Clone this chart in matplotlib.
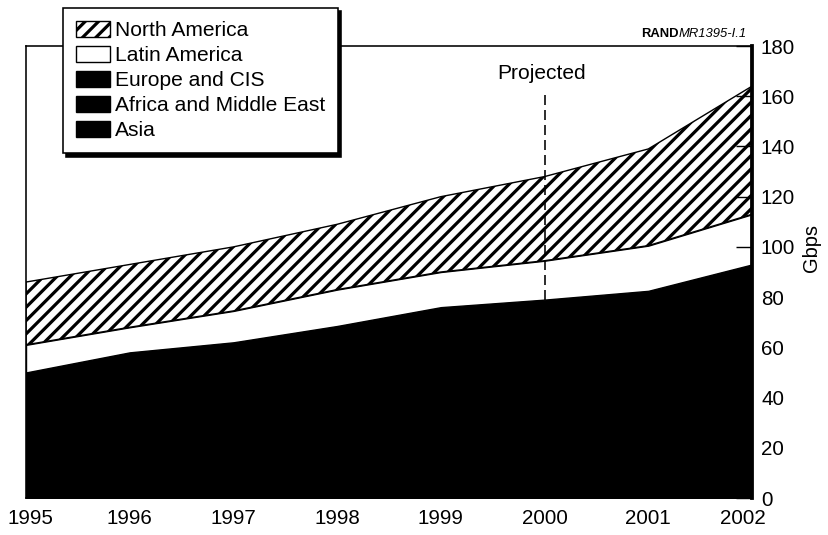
import matplotlib
matplotlib.use("Agg")
import matplotlib.pyplot as plt
import matplotlib.transforms as mtransforms
import numpy as np

W, H, DPI = 828, 535, 120


def pt(px):
    return px * 72.0 / DPI


plt.rcParams['font.family'] = ['Liberation Sans', 'DejaVu Sans']
plt.rcParams['hatch.linewidth'] = pt(3.2)
plt.rcParams['hatch.color'] = 'black'
plt.rcParams['lines.scale_dashes'] = False

years = [1995, 1996, 1997, 1998, 1999, 2000, 2001, 2002]
asia = [12, 14.5, 16, 18, 20, 21.5, 22.5, 26]
africa_me = [2, 2.5, 3, 3.5, 4, 4.5, 5, 6]
europe_cis = [36, 41, 43, 47, 52, 53, 55, 61]
latin_america = [11, 10, 12.5, 14.5, 14, 15.5, 18, 20]
north_america = [25, 25, 25.5, 26, 30, 33.5, 38.5, 51]
labels = ['Asia', 'Africa and Middle East', 'Europe and CIS', 'Latin America', 'North America']
yticks = [0, 20, 40, 60, 80, 100, 120, 140, 160, 180]
projected_year = 2000
projected_top = 162

fig = plt.figure(figsize=(W / DPI, H / DPI), dpi=DPI)
ax = fig.add_axes([26 / W, 1 - 498 / H, 726 / W, (498 - 46) / H])

polys = ax.stackplot(years, asia, africa_me, europe_cis, latin_america, north_america,
                     labels=labels,
                     colors=['black', 'black', 'black', 'white', 'white'],
                     edgecolor='black', linewidth=pt(1.4))
polys[4].set_hatch('///')

black_top = np.array(asia) + np.array(africa_me) + np.array(europe_cis)
idx = years.index(projected_year)
ax.plot([projected_year, projected_year], [black_top[idx], projected_top],
        color='black', lw=pt(1.6), dashes=(pt(10), pt(5)))
ax.text(projected_year - 0.03, 169, 'Projected', ha='center', va='center', fontsize=pt(21))

ax.set_xlim(1995, 2002)
ax.set_ylim(0, 180)
ax.set_xticks(years)
ax.set_xticklabels([str(y) for y in years], fontsize=pt(20.5))
ax.tick_params(axis='x', length=0, pad=pt(11))
xt = ax.get_xticklabels()
xt[0].set_transform(xt[0].get_transform() + mtransforms.ScaledTranslation(pt(4) / 72, 0, fig.dpi_scale_trans))
xt[-1].set_transform(xt[-1].get_transform() + mtransforms.ScaledTranslation(-pt(9) / 72, 0, fig.dpi_scale_trans))
ax.yaxis.tick_right()
ax.set_yticks(yticks)
ax.set_yticklabels([str(v) for v in yticks], fontsize=pt(20.5))
ax.tick_params(axis='y', direction='in', length=pt(16), width=pt(1.4), pad=pt(9),
               right=True, left=False)

for s in ['left', 'top', 'bottom']:
    ax.spines[s].set_linewidth(pt(1.6))
ax.spines['right'].set_linewidth(pt(3.8))

fig.text(812 / W, 1 - 248 / H, 'Gbps', rotation=90, ha='center', va='center', fontsize=pt(20))

t1 = fig.text(747 / W, 1 - 37 / H, 'MR1395-I.1', style='italic', ha='right',
              va='baseline', fontsize=pt(13))
ax.annotate('RAND', xy=(0, 0), xycoords=t1, ha='right', va='bottom',
            fontsize=pt(13), fontweight='bold')

handles, labs = ax.get_legend_handles_labels()
leg = ax.legend(handles[::-1], labs[::-1], loc='upper left',
                bbox_to_anchor=(63 / W, 1 - 8 / H), bbox_transform=fig.transFigure,
                borderaxespad=0, fontsize=pt(21), frameon=True, fancybox=False,
                framealpha=1, edgecolor='black', handlelength=1.6, handleheight=0.8,
                labelspacing=0.27, handletextpad=0.25, borderpad=0.62,
                shadow={'color': 'black', 'alpha': 1})
leg.get_frame().set_linewidth(pt(1.6))
leg.set_zorder(10)

fig.savefig('out.png', dpi=DPI)
